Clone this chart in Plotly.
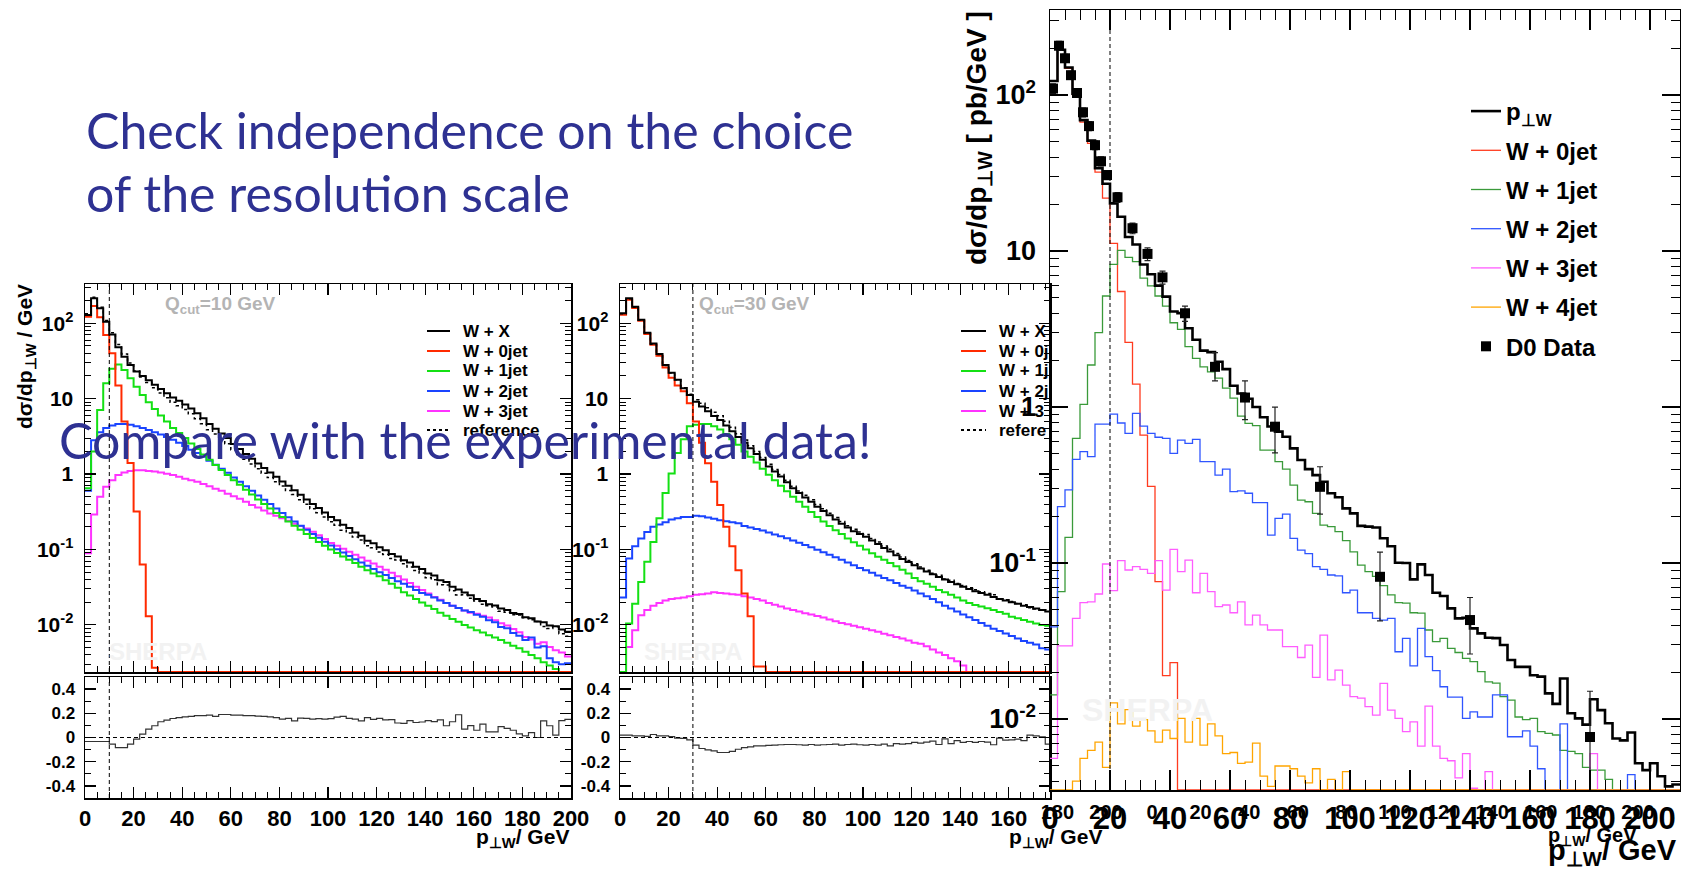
import numpy as np
import plotly.graph_objects as go

W, H = 1681, 875
FONT = "Liberation Sans"
TITLE_FONT = "Lato"
NAVY = "#2e3192"

BIN = 2.5
QCUT_LEFT, QCUT_MID, QCUT_RIGHT = 10, 30, 20

# ---------------- left panel: Q_cut = 10 GeV (80 bins, 0-200 GeV) ----------------
left_wx = [129, 214, 158, 105, 71, 48, 36, 28, 23, 20,
           17.5, 15.3, 13.4, 11.8, 10.4, 9.4, 8.4, 7.4, 6.4, 5.5,
           4.6, 4.0, 3.45, 3.0, 2.5, 2.15, 1.85, 1.6, 1.38, 1.2,
           1.05, 0.92, 0.80, 0.70, 0.61, 0.53, 0.46, 0.40, 0.355, 0.31,
           0.27, 0.245, 0.212, 0.192, 0.168, 0.152, 0.131, 0.121, 0.107, 0.098,
           0.087, 0.081, 0.072, 0.067, 0.059, 0.055, 0.048, 0.045, 0.039, 0.037,
           0.032, 0.0295, 0.0268, 0.0248, 0.0220, 0.0208, 0.0188, 0.0181, 0.0165, 0.0158,
           0.0144, 0.0139, 0.0126, 0.0122, 0.0111, 0.0108, 0.0098, 0.0096, 0.0087, 0.0081]
left_0jet = [122, 170, 120, 70, 40, 15, 5.0, 1.4, 0.32, 0.063, 0.013, 0.0027] + [0] * 68
left_1jet = [0.65, 2.0, 7.1, 16, 25, 28.5, 24, 18.7, 14.4, 11.2,
             9.0, 7.3, 6.0, 5.0, 4.1, 3.5, 3.0, 2.55, 2.15, 1.82,
             1.55, 1.32, 1.13, 0.97, 0.83, 0.72, 0.62, 0.535, 0.46, 0.40,
             0.35, 0.305, 0.27, 0.235, 0.207, 0.182, 0.16, 0.142, 0.126, 0.112,
             0.10, 0.09, 0.081, 0.073, 0.066, 0.059, 0.053, 0.048, 0.044, 0.039,
             0.035, 0.031, 0.027, 0.0245, 0.022, 0.0198, 0.018, 0.0162, 0.0145, 0.0132,
             0.0120, 0.0110, 0.0100, 0.0092, 0.0085, 0.0079, 0.0073, 0.0068, 0.0063, 0.0058,
             0.0053, 0.0049, 0.0044, 0.0040, 0.0036, 0.0032, 0.0029, 0.0026, 0, 0]
left_2jet = [0.6, 2.8, 3.6, 4.1, 4.4, 4.6, 4.6, 4.5, 4.3, 4.1,
             3.85, 3.6, 3.35, 3.1, 2.85, 2.6, 2.35, 2.1, 1.9, 1.7,
             1.5, 1.33, 1.18, 1.04, 0.90, 0.79, 0.69, 0.60, 0.52, 0.455,
             0.40, 0.35, 0.305, 0.268, 0.235, 0.207, 0.182, 0.161, 0.143, 0.127,
             0.113, 0.101, 0.091, 0.082, 0.074, 0.067, 0.061, 0.055, 0.050, 0.046,
             0.042, 0.038, 0.035, 0.032, 0.029, 0.0265, 0.025, 0.023, 0.021, 0.0195,
             0.018, 0.0168, 0.0155, 0.0148, 0.0136, 0.0128, 0.0115, 0.0108, 0.0094, 0.0090,
             0.0078, 0.0072, 0.0063, 0.0068, 0.0050, 0.0052, 0.0036, 0.0032, 0.0030, 0.0031]
left_3jet = [0.089, 0.29, 0.5, 0.68, 0.83, 0.97, 1.05, 1.1, 1.12, 1.12,
             1.1, 1.08, 1.05, 1.01, 0.97, 0.92, 0.87, 0.83, 0.79, 0.74,
             0.69, 0.64, 0.60, 0.55, 0.51, 0.47, 0.43, 0.39, 0.36, 0.33,
             0.30, 0.28, 0.26, 0.24, 0.22, 0.205, 0.19, 0.172, 0.155, 0.138,
             0.122, 0.112, 0.102, 0.093, 0.085, 0.078, 0.071, 0.065, 0.059, 0.054,
             0.049, 0.044, 0.040, 0.036, 0.032, 0.029, 0.026, 0.0235, 0.0215, 0.0195,
             0.018, 0.0168, 0.0155, 0.0145, 0.0140, 0.0132, 0.0125, 0.0115, 0.0105, 0.0098,
             0.0088, 0.0080, 0.0069, 0.0064, 0.0056, 0.0059, 0.0051, 0.0046, 0.0043, 0.0038]
left_ratio = [-0.033, -0.033, -0.033, -0.033, -0.055, -0.083, -0.083, -0.055, -0.014, 0.028,
              0.069, 0.097, 0.13, 0.143, 0.157, 0.165, 0.171, 0.175, 0.18, 0.18,
              0.185, 0.174, 0.19, 0.19, 0.185, 0.185, 0.18, 0.18, 0.176, 0.174,
              0.17, 0.165, 0.152, 0.158, 0.138, 0.16, 0.158, 0.152, 0.156, 0.152,
              0.156, 0.168, 0.174, 0.158, 0.152, 0.138, 0.165, 0.15, 0.158, 0.145,
              0.148, 0.12, 0.116, 0.14, 0.124, 0.128, 0.14, 0.132, 0.145, 0.097,
              0.13, 0.188, 0.069, 0.098, 0.06, 0.11, 0.047, 0.047, 0.09, 0.075,
              0.06, 0.03, 0.014, 0.04, 0.0, 0.138, 0.097, 0.02, 0.14, 0.15]

# ---------------- middle panel: Q_cut = 30 GeV (visible part, 71 bins) ----------------
mid_wx = [136, 215, 166, 111, 75, 54, 39, 28, 22, 17.8,
          13.8, 11.2, 9.1, 7.9, 6.8, 5.9, 5.2, 4.4, 3.7, 3.1,
          2.6, 2.2, 1.85, 1.55, 1.26, 1.08, 0.93, 0.78, 0.65, 0.56,
          0.49, 0.43, 0.37, 0.325, 0.285, 0.25, 0.22, 0.195, 0.175, 0.16,
          0.148, 0.132, 0.118, 0.105, 0.094, 0.084, 0.075, 0.068, 0.062, 0.056,
          0.051, 0.047, 0.043, 0.040, 0.037, 0.0345, 0.032, 0.030, 0.028, 0.0265,
          0.025, 0.0235, 0.022, 0.021, 0.020, 0.019, 0.018, 0.0172, 0.0165, 0.0158,
          0.015]
mid_0jet = [130, 205, 160, 108, 72, 52, 37, 26, 19, 15, 12.5, 8.7, 5.0, 2.6, 1.39, 0.79,
            0.39, 0.2, 0.11, 0.053, 0.026, 0.013, 0.0028, 0.0028] + [0] * 47
mid_1jet = [0, 0.0104, 0.019, 0.037, 0.069, 0.126, 0.26, 0.56, 1.02, 1.9,
            2.9, 4.3, 4.5, 4.6, 4.6, 4.3, 3.9, 3.4, 2.9, 2.45,
            2.0, 1.7, 1.42, 1.18, 0.98, 0.83, 0.70, 0.59, 0.50, 0.43,
            0.37, 0.315, 0.27, 0.235, 0.205, 0.18, 0.16, 0.14, 0.125, 0.112,
            0.10, 0.089, 0.080, 0.073, 0.066, 0.060, 0.054, 0.048, 0.042, 0.038,
            0.035, 0.032, 0.029, 0.027, 0.025, 0.023, 0.021, 0.0195, 0.0183, 0.0175,
            0.0166, 0.0157, 0.0148, 0.014, 0.0128, 0.0122, 0.0116, 0.011, 0.0104, 0.010,
            0.0097]
mid_2jet = [0.023, 0.076, 0.11, 0.14, 0.17, 0.2, 0.215, 0.23, 0.25, 0.26,
            0.27, 0.27, 0.28, 0.275, 0.265, 0.255, 0.245, 0.237, 0.23, 0.222,
            0.205, 0.196, 0.187, 0.178, 0.168, 0.158, 0.15, 0.141, 0.132, 0.123,
            0.115, 0.107, 0.099, 0.092, 0.085, 0.079, 0.073, 0.067, 0.062, 0.057,
            0.053, 0.049, 0.045, 0.042, 0.039, 0.036, 0.033, 0.031, 0.0285, 0.026,
            0.024, 0.022, 0.020, 0.018, 0.0165, 0.015, 0.0137, 0.0126, 0.0116, 0.0106,
            0.0097, 0.0089, 0.0083, 0.0077, 0.0071, 0.0066, 0.0061, 0.0058, 0.0055, 0.0049,
            0.0047]
mid_3jet = [0, 0.0051, 0.0085, 0.0134, 0.0158, 0.018, 0.0195, 0.021, 0.022, 0.0225,
            0.023, 0.024, 0.025, 0.0255, 0.026, 0.027, 0.0265, 0.026, 0.0255, 0.025,
            0.024, 0.023, 0.022, 0.021, 0.0195, 0.0185, 0.0175, 0.0165, 0.0158, 0.015,
            0.0143, 0.0137, 0.0131, 0.0125, 0.0118, 0.0112, 0.0106, 0.0102, 0.0097, 0.0093,
            0.0089, 0.0085, 0.0081, 0.0076, 0.0073, 0.0069, 0.0066, 0.0062, 0.0058, 0.0056,
            0.0052, 0.0047, 0.0043, 0.0040, 0.0036, 0.0033, 0.0029] + [0] * 14
mid_ratio = [0.019, 0.019, 0.014, 0.014, 0.01, 0.025, 0.014, 0.014, 0.008, -0.005,
             -0.008, -0.019, -0.063, -0.091, -0.102, -0.11, -0.124, -0.124, -0.115, -0.097,
             -0.083, -0.077, -0.069, -0.069, -0.065, -0.063, -0.060, -0.058, -0.058, -0.060,
             -0.063, -0.058, -0.063, -0.060, -0.058, -0.055, -0.063, -0.058, -0.055, -0.060,
             -0.063, -0.058, -0.063, -0.055, -0.069, -0.050, -0.055, -0.050, -0.041, -0.047,
             -0.038, -0.030, -0.058, -0.012, -0.050, -0.025, -0.041, -0.033, -0.041, -0.033,
             -0.038, -0.060, -0.005, -0.022, -0.019, -0.014, -0.025, 0.019, 0.014, 0.005,
             -0.055]

# ---------------- right panel: comparison with D0 (84 bins, 0-210 GeV) ----------------
right_ptw = [123, 195, 150, 102, 69, 51, 34, 27, 20.2, 16.6,
             12.3, 11.0, 8.2, 7.1, 6.0, 5.1, 4.1, 4.0, 3.2, 2.7,
             2.3, 2.25, 1.95, 1.75, 1.37, 1.22, 1.13, 1.0, 0.86, 0.75,
             0.695, 0.645, 0.543, 0.457, 0.40, 0.366, 0.332, 0.280, 0.264, 0.224,
             0.208, 0.173, 0.171, 0.169, 0.144, 0.128, 0.1005, 0.10, 0.0786, 0.098,
             0.0838, 0.0645, 0.0614, 0.0512, 0.0442, 0.0445, 0.0381, 0.0354, 0.0332, 0.033,
             0.0298, 0.0239, 0.0216, 0.0216, 0.0191, 0.0187, 0.0146, 0.0125, 0.0182, 0.0109,
             0.0101, 0.0092, 0.0134, 0.0114, 0.0094, 0.0075, 0.0073, 0.0082, 0.0052, 0.0047,
             0.0052, 0.0043, 0.0037, 0.0038]
right_0jet = [123, 194, 148, 100, 67, 49, 32, 21.8, 11.2, 5.5,
              2.6, 1.4, 0.66, 0.31, 0.076, 0.019, 0.023] + [0] * 67
right_1jet = [0.0143, 0.0655, 0.146, 0.63, 1.04, 1.86, 3.0, 5.15, 8.2, 10.1,
              9.1, 8.55, 6.7, 5.97, 5.15, 4.44, 3.47, 3.15, 2.44, 2.05,
              1.81, 1.68, 1.53, 1.32, 1.14, 0.875, 0.785, 0.76, 0.53, 0.53,
              0.446, 0.40, 0.316, 0.253, 0.247, 0.208, 0.175, 0.171, 0.159, 0.139,
              0.118, 0.097, 0.088, 0.082, 0.0716, 0.0624, 0.0557, 0.0553, 0.048, 0.0478,
              0.0372, 0.0313, 0.0329, 0.0284, 0.0267, 0.0245, 0.0233, 0.0201, 0.0173, 0.0170,
              0.0139, 0.0132, 0.0103, 0.0099, 0.0101, 0.0083, 0.0081, 0.0079, 0.0063, 0.0062,
              0.006, 0.0049, 0.0047, 0.0047, 0.0041, 0, 0, 0, 0, 0,
              0, 0, 0, 0]
right_2jet = [0.039, 0.23, 0.294, 0.462, 0.517, 0.481, 0.778, 0.778, 0.90, 0.79,
              0.678, 0.91, 0.755, 0.678, 0.64, 0.63, 0.505, 0.614, 0.585, 0.621,
              0.446, 0.446, 0.366, 0.40, 0.287, 0.29, 0.28, 0.244, 0.244, 0.151,
              0.193, 0.206, 0.144, 0.121, 0.115, 0.0947, 0.091, 0.0838, 0.0826, 0.0645,
              0.0671, 0.048, 0.048, 0.0442, 0.0431, 0.0442, 0.027, 0.0329, 0.0219, 0.0381,
              0.0251, 0.0204, 0.0161, 0.0138, 0.0138, 0.0101, 0.0111, 0.0103, 0.0103, 0.0143,
              0.0143, 0.0077, 0.0077, 0.0084, 0.0067, 0.0048, 0, 0, 0.0093, 0,
              0, 0, 0, 0, 0, 0, 0, 0.0044, 0, 0,
              0, 0, 0, 0]
right_3jet = [0.0056, 0.0294, 0.0294, 0.0442, 0.0557, 0.0564, 0.0633, 0.0986, 0.0665, 0.1035,
              0.0902, 0.0947, 0.091, 0.0859, 0.1035, 0.0671, 0.1224, 0.088, 0.1045, 0.0645,
              0.0859, 0.0655, 0.0525, 0.0538, 0.048, 0.0564, 0.0401, 0.0464, 0.0401, 0.0372,
              0.0372, 0.0291, 0.0291, 0.0248, 0.0298, 0.0185, 0.0345, 0.0178, 0.0206, 0.0165,
              0.0139, 0.0136, 0.012, 0.0106, 0.0169, 0.0114, 0.0101, 0.0083, 0.0096, 0.0067,
              0.0121, 0.0067, 0.0056, 0.0054, 0.0042, 0.006, 0.0036, 0, 0.0046, 0,
              0, 0, 0, 0, 0, 0, 0, 0, 0, 0,
              0, 0, 0.006, 0, 0, 0, 0, 0, 0, 0,
              0, 0, 0, 0]
right_4jet = [0, 0, 0, 0.004, 0.0056, 0.0063, 0.0071, 0.0049, 0.0127, 0.0093,
              0.0115, 0.009, 0.0099, 0.0084, 0.0071, 0.0085, 0.0075, 0.0101, 0.0071, 0.0101,
              0.0068, 0.0093, 0.0078, 0.006, 0.0061, 0.0052, 0.0053, 0.007, 0.0043, 0.0037,
              0.005, 0.005, 0.0048, 0.0043, 0.0039, 0.0048, 0, 0.0041, 0, 0.0046] + [0] * 44

d0_pt = [1, 3, 5, 7, 9, 11, 13, 15, 17, 19, 22.5, 27.5, 32.5, 37.5, 45, 55, 65, 75, 90, 110, 140, 180]
d0_xsec = [110, 207, 172, 134, 103, 77.5, 63.2, 47.7, 37.6, 30.7, 22.1, 14.0, 9.58, 6.78, 3.99,
           1.81, 1.15, 0.748, 0.308, 0.0816, 0.0431, 0.00767]
d0_err_up = [8, 14, 10, 8, 6, 5, 4, 3, 2.5, 2, 1.6, 1.1, 0.9, 0.65, 0.45, 0.42, 0.32, 0.25,
             0.106, 0.036, 0.017, 0.0074]
d0_err_dn = [8, 14, 10, 8, 6, 5, 4, 3, 2.5, 2, 1.6, 1.1, 0.9, 0.65, 0.45, 0.34, 0.32, 0.24,
             0.102, 0.039, 0.017, 0.0074]

# tick labels
X_TICKS = list(range(0, 201, 20))
LOG_TICKS = [0.01, 0.1, 1, 10, 100]
LOG_LABELS = ["10<sup>-2</sup>", "10<sup>-1</sup>", "1", "10", "10<sup>2</sup>"]
RATIO_TICKS = [-0.4, -0.2, 0, 0.2, 0.4]
RATIO_LABELS = ["-0.4", "-0.2", "0", "0.2", "0.4"]
MID_OVERFLOW_TICKS = [180, 200]

# legend texts
LEFT_LEGEND = ["W + X", "W + 0jet", "W + 1jet", "W + 2jet", "W + 3jet", "reference"]
MID_LEGEND = ["W + X", "W + 0j", "W + 1j", "W + 2j", "W + 3", "refere"]


# ---------------- geometry (pixels) ----------------
def fx(px):
    return px / W


def fy(py):
    return 1 - py / H


LEFT_X = (85, 571)
MID_X = (620, 1050)
RIGHT_X = (1050, 1680)
MAIN_Y = (284, 672)
RATIO_Y = (677, 798)
RIGHT_Y = (10, 790)
PX_PER_GEV = (LEFT_X[1] - LEFT_X[0]) / 200.0
MID_MAX = (MID_X[1] - MID_X[0]) / PX_PER_GEV
LR_RANGE = [-2.625, 2.521]
RIGHT_RANGE = [-2.455, 2.545]
FLOOR_LR = 10 ** LR_RANGE[0]
FLOOR_R = 10 ** RIGHT_RANGE[0]

C = dict(red="#ff2a00", green="#14e014", blue="#1a44ff", mag="#ff33ff")
CR = dict(red="#ff3b1f", green="#3a9a3a", blue="#2f55ff", mag="#ff5cff", orange="#ffa500")

fig = go.Figure()


def hist(vals, xa, ya, color, width, floor=None, name=None, legend="legend",
         dash=None, rank=None, group=None):
    v = np.asarray(vals, dtype=float)
    if floor is not None:
        v = np.maximum(v, floor)
    x = np.arange(len(v) + 1) * BIN
    y = np.append(v, v[-1])
    fig.add_trace(go.Scatter(
        x=x, y=y, mode="lines", xaxis=xa, yaxis=ya,
        line=dict(color=color, width=width, shape="hv", dash=dash),
        name=name, showlegend=name is not None, legend=legend,
        legendrank=rank if rank is not None else 1000, legendgroup=group,
        hoverinfo="skip"))


# empty carriers first, so the label-only axes of the partly hidden panels are drawn
for xa in ("x6", "x7"):
    fig.add_trace(go.Scatter(x=[], y=[], xaxis=xa, yaxis="y6", mode="lines",
                             showlegend=False, hoverinfo="skip"))

# left panel
left_ref = np.asarray(left_wx) / (1 + np.asarray(left_ratio))
hist(left_3jet, "x", "y", C["mag"], 2, FLOOR_LR)
hist(left_2jet, "x", "y", C["blue"], 2, FLOOR_LR)
hist(left_1jet, "x", "y", C["green"], 2, FLOOR_LR)
hist(left_0jet, "x", "y", C["red"], 2, FLOOR_LR)
hist(left_ref, "x", "y", "black", 1.5, FLOOR_LR, dash="dot")
hist(left_wx, "x", "y", "black", 2, FLOOR_LR)
hist(left_ratio, "x2", "y2", "#333333", 1.2)

# middle panel
mid_ref = np.asarray(mid_wx) / (1 + np.asarray(mid_ratio))
hist(mid_3jet, "x3", "y3", C["mag"], 2, FLOOR_LR)
hist(mid_2jet, "x3", "y3", C["blue"], 2, FLOOR_LR)
hist(mid_1jet, "x3", "y3", C["green"], 2, FLOOR_LR)
hist(mid_0jet, "x3", "y3", C["red"], 2, FLOOR_LR)
hist(mid_ref, "x3", "y3", "black", 1.5, FLOOR_LR, dash="dot")
hist(mid_wx, "x3", "y3", "black", 2, FLOOR_LR)
hist(mid_ratio, "x4", "y4", "#333333", 1.2)

# right panel
hist(right_0jet, "x5", "y5", CR["red"], 1.3, FLOOR_R, "W + 0jet", "legend2", rank=2, group="g2")
hist(right_1jet, "x5", "y5", CR["green"], 1.3, FLOOR_R, "W + 1jet", "legend2", rank=3, group="g3")
hist(right_2jet, "x5", "y5", CR["blue"], 1.3, FLOOR_R, "W + 2jet", "legend2", rank=4, group="g4")
hist(right_3jet, "x5", "y5", CR["mag"], 1.3, FLOOR_R, "W + 3jet", "legend2", rank=5, group="g5")
hist(right_4jet, "x5", "y5", CR["orange"], 1.3, FLOOR_R, "W + 4jet", "legend2", rank=6, group="g6")
hist(right_ptw, "x5", "y5", "black", 2.6, FLOOR_R, "p<sub>⊥W</sub>", "legend2", rank=1, group="g1")
fig.add_trace(go.Scatter(
    x=d0_pt, y=d0_xsec, mode="markers", xaxis="x5", yaxis="y5", name="D0 Data",
    legend="legend2", legendrank=7, legendgroup="g7",
    marker=dict(symbol="square", size=10, color="black"),
    error_y=dict(type="data", symmetric=False, array=d0_err_up, arrayminus=d0_err_dn,
                 color="#222222", thickness=1.2, width=3),
    hoverinfo="skip"))

# ---------------- axes ----------------
MINOR_LOG = [m * 10.0 ** e for e in range(-3, 3) for m in range(2, 10)]
TICKC = dict(tickcolor="black", tickwidth=1.2)


def xaxis(dom, rng, anchor, labels, size=22, ticklen=11, minorlen=6, tickvals=X_TICKS):
    return dict(domain=[fx(dom[0]), fx(dom[1])], range=rng, anchor=anchor,
                showline=True, linecolor="black", linewidth=1.5, mirror="ticks",
                ticks="inside", ticklen=ticklen, **TICKC,
                tickmode="array", tickvals=tickvals, showticklabels=labels,
                tickfont=dict(family=FONT, size=size, color="black", weight="bold"),
                minor=dict(tickmode="linear", tick0=0, dtick=5, ticks="inside",
                           ticklen=minorlen, tickcolor="black", tickwidth=1),
                showgrid=False, zeroline=False, automargin=False, fixedrange=True)


def logyaxis(dom, rng, anchor, size, ticklen, minorlen, standoff):
    return dict(type="log", domain=[fy(dom[1]), fy(dom[0])], range=rng, anchor=anchor,
                showline=True, linecolor="black", linewidth=1.5, mirror="ticks",
                ticks="inside", ticklen=ticklen, **TICKC,
                tickmode="array", tickvals=LOG_TICKS, ticktext=LOG_LABELS,
                tickfont=dict(family=FONT, size=size, color="black", weight="bold"),
                ticklabelstandoff=standoff,
                minor=dict(tickmode="array", tickvals=MINOR_LOG, ticks="inside",
                           ticklen=minorlen, tickcolor="black", tickwidth=1),
                showgrid=False, zeroline=False, automargin=False, fixedrange=True)


def ratioyaxis(dom, anchor):
    return dict(domain=[fy(dom[1]), fy(dom[0])], range=[-0.5, 0.5], anchor=anchor,
                showline=True, linecolor="black", linewidth=1.5, mirror="ticks",
                ticks="inside", ticklen=11, **TICKC,
                tickmode="array", tickvals=RATIO_TICKS, ticktext=RATIO_LABELS,
                tickfont=dict(family=FONT, size=17, color="black", weight="bold"),
                ticklabelstandoff=5,
                minor=dict(tickmode="linear", tick0=0, dtick=0.1, ticks="inside",
                           ticklen=6, tickcolor="black", tickwidth=1),
                showgrid=False, zeroline=False, automargin=False, fixedrange=True)


label_only = dict(showline=False, ticks="", showgrid=False, zeroline=False,
                  automargin=False, fixedrange=True, tickmode="array",
                  tickfont=dict(family=FONT, size=20, color="black", weight="bold"))

layout = dict(
    xaxis=xaxis(LEFT_X, [0, 200], "y", False),
    yaxis=logyaxis(MAIN_Y, LR_RANGE, "x", 21, 11, 6, 6),
    xaxis2=xaxis(LEFT_X, [0, 200], "y2", True),
    yaxis2=ratioyaxis(RATIO_Y, "x2"),
    xaxis3=xaxis(MID_X, [0, MID_MAX], "y3", False),
    yaxis3=logyaxis(MAIN_Y, LR_RANGE, "x3", 21, 11, 6, 6),
    xaxis4=xaxis(MID_X, [0, MID_MAX], "y4", True),
    yaxis4=ratioyaxis(RATIO_Y, "x4"),
    xaxis5=xaxis(RIGHT_X, [0, 210], "y5", True, size=31, ticklen=20, minorlen=10),
    yaxis5=logyaxis(RIGHT_Y, RIGHT_RANGE, "x5", 27, 18, 9, 7),
    xaxis6=dict(domain=[fx(1152), fx(1638)], range=[0, 200], anchor="y6",
                tickvals=X_TICKS, **label_only),
    yaxis6=dict(domain=[fy(RATIO_Y[1]), fy(RATIO_Y[0])], range=[0, 1], anchor="x6",
                visible=False, fixedrange=True),
    xaxis7=dict(domain=[fx(MID_X[0]), fx(1106)], range=[0, 200], anchor="y6",
                tickvals=MID_OVERFLOW_TICKS, **label_only),
)

# ---------------- shapes ----------------
DASH = "4px,3px"
shapes = []
for xa, ya, q in [("x", "y", QCUT_LEFT), ("x2", "y2", QCUT_LEFT), ("x3", "y3", QCUT_MID),
                  ("x4", "y4", QCUT_MID), ("x5", "y5", QCUT_RIGHT)]:
    shapes.append(dict(type="line", xref=xa, yref=ya + " domain", x0=q, x1=q, y0=0, y1=1,
                       line=dict(color="black", width=1, dash=DASH), layer="above"))
for xa, ya in [("x2", "y2"), ("x4", "y4")]:
    shapes.append(dict(type="line", xref=xa + " domain", yref=ya, x0=0, x1=1, y0=0, y1=0,
                       line=dict(color="black", width=1, dash=DASH), layer="above"))

LEG_STYLE = [("black", None), (C["red"], None), (C["green"], None),
             (C["blue"], None), (C["mag"], None), ("black", "dot")]
LEG_Y = [331, 351, 371, 391, 411, 430]
for (col, dsh), yy in zip(LEG_STYLE, LEG_Y):
    for x0, x1 in [(427, 450), (961, 986)]:
        shapes.append(dict(type="line", xref="paper", yref="paper", x0=fx(x0), x1=fx(x1),
                           y0=fy(yy), y1=fy(yy), line=dict(color=col, width=2, dash=dsh)))

# ---------------- annotations ----------------
ann = []


def text(x, y, s, size, color="black", xanchor="left", yanchor="middle",
         family=FONT, weight="bold", angle=0):
    ann.append(dict(x=fx(x), y=fy(y), xref="paper", yref="paper", text=s, showarrow=False,
                    xanchor=xanchor, yanchor=yanchor, textangle=angle,
                    font=dict(family=family, size=size, color=color, weight=weight)))


# faint watermarks first
text(158, 651, "SHERPA", 24, "#f2f2f2", xanchor="center")
text(693, 651, "SHERPA", 24, "#f2f2f2", xanchor="center")
text(1147, 710, "SHERPA", 32, "#f2f2f2", xanchor="center")

text(163, 305, "Q<sub>cut</sub>=10 GeV", 19, "#b4b4b4")
text(697, 305, "Q<sub>cut</sub>=30 GeV", 19, "#b4b4b4")

for lab, yy in zip(LEFT_LEGEND, LEG_Y):
    text(461, yy, lab, 17)
for lab, yy in zip(MID_LEGEND, LEG_Y):
    text(997, yy, lab, 17)

text(26, 357, "dσ/dp<sub>⊥W</sub> / GeV", 21, xanchor="center", angle=-90)
text(979, 138, "dσ/dp<sub>⊥W</sub> [ pb/GeV ]", 28, xanchor="center", angle=-90)

text(571, 838, "p<sub>⊥W</sub>/ GeV", 21, xanchor="right")
text(1104, 838, "p<sub>⊥W</sub>/ GeV", 21, xanchor="right")
text(1639, 836, "p<sub>⊥W</sub>/ GeV", 20, xanchor="right")
text(1679, 852, "p<sub>⊥W</sub>/ GeV", 29, xanchor="right")

text(84, 130, "Check independence on the choice", 50, NAVY, family=TITLE_FONT, weight="normal")
text(84, 193, "of the resolution scale", 50, NAVY, family=TITLE_FONT, weight="normal")
text(57, 440, "Compare with the experimental data!", 50, NAVY, family=TITLE_FONT, weight="normal")

fig.update_layout(
    **layout,
    width=W, height=H, template="none",
    margin=dict(l=0, r=0, t=0, b=0, pad=0),
    paper_bgcolor="white", plot_bgcolor="rgba(0,0,0,0)",
    showlegend=True,
    legend2=dict(x=fx(1466), y=fy(89), xanchor="left", yanchor="top",
                 bgcolor="rgba(0,0,0,0)", borderwidth=0, itemwidth=30, tracegroupgap=5,
                 font=dict(family=FONT, size=24, color="black", weight="bold")),
    shapes=shapes,
    annotations=ann,
)

fig.write_html("out.html", include_plotlyjs=True, full_html=True,
               config={"displayModeBar": False, "staticPlot": True},
               post_script="document.body.style.margin='0';document.body.style.overflow='hidden';")
